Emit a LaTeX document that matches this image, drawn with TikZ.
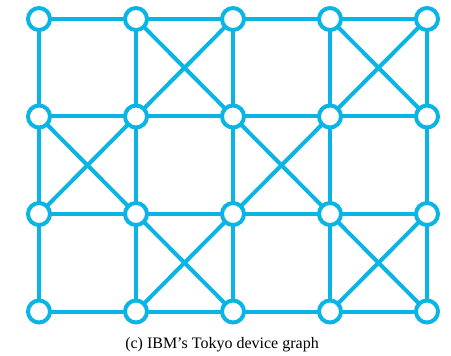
\documentclass[tikz,border=0pt]{standalone}
\usepackage{fontspec}
\setmainfont{Liberation Serif}
\usepackage{tikz}
\usepackage{xcolor}
\definecolor{qblue}{RGB}{10,180,228}

\tikzset{
  qubit/.style={circle, draw=qblue, fill=white, line width=4pt, inner sep=0pt, minimum size=22pt},
  coupler/.style={draw=qblue, line width=4pt}
}

\begin{document}
\begin{tikzpicture}[x=97pt, y=-97.5pt]
  \useasboundingbox (-39pt,19pt) rectangle (412pt,-337pt);

  % qubit positions, row r and column c
  \foreach \r in {0,...,3}
    \foreach \c in {0,...,4}
      \coordinate (q\r\c) at (\c,\r);

  % nearest neighbour links
  \foreach \r in {0,...,3}
    \foreach \c [count=\n from 1] in {0,...,3}
      \draw[coupler] (q\r\c) -- (q\r\n);
  \foreach \r [count=\n from 1] in {0,...,2}
    \foreach \c in {0,...,4}
      \draw[coupler] (q\r\c) -- (q\n\c);

  % crossed cells
  \foreach \r/\c in {0/1, 0/3, 1/0, 1/2, 2/1, 2/3} {
    \pgfmathtruncatemacro{\rr}{\r+1}
    \pgfmathtruncatemacro{\cc}{\c+1}
    \draw[coupler] (q\r\c) -- (q\rr\cc);
    \draw[coupler] (q\r\cc) -- (q\rr\c);
  }

  \foreach \r in {0,...,3}
    \foreach \c in {0,...,4}
      \node[qubit] (n\r\c) at (q\r\c) {};

  \node[anchor=base, font=\fontsize{16}{18}\selectfont] (caption) at (183pt,-329pt) {(c) IBM’s Tokyo device graph};
\end{tikzpicture}
\end{document}
